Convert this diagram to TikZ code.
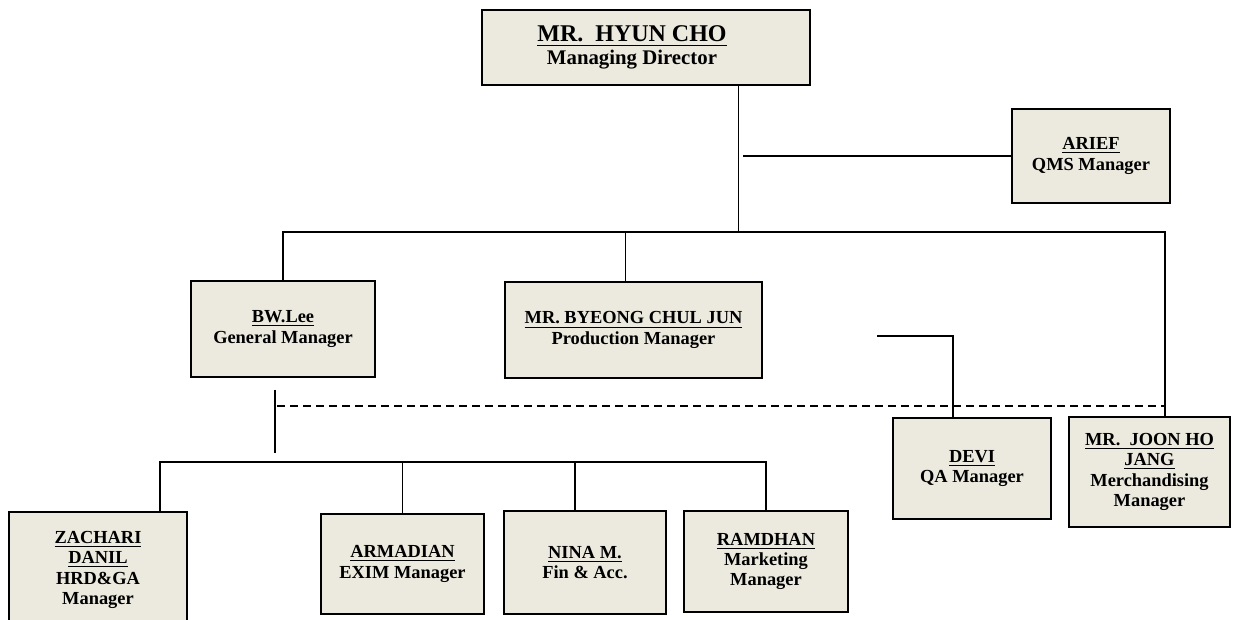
\documentclass[tikz,border=0pt]{standalone}
\usepackage{fontspec}
\setmainfont{Liberation Serif}
\usepackage{tikz}
\usetikzlibrary{calc}
\definecolor{boxfill}{RGB}{236,233,222}
\tikzset{
  post/.style={draw, line width=1pt, fill=boxfill, align=center, inner sep=0pt,
    font=\bfseries\fontsize{9.2}{10.2}\selectfont},
  link/.style={line width=0.9pt},
  dashlink/.style={line width=1pt, dash pattern=on 4pt off 2.5pt}
}

\begin{document}
\begin{tikzpicture}[x=0.5pt,y=-0.5pt]
\clip (0,0) rectangle (1233,620);
\node[post, minimum width=164pt, minimum height=37.5pt] (md) at (646,47.5)
  {{\fontsize{12}{12}\selectfont\underline{MR.~~HYUN CHO}\hspace*{14pt}}\\[1pt]
   {\fontsize{10.4}{12}\selectfont Managing Director\hspace*{14pt}}};
\node[post, minimum width=79pt, minimum height=47pt] (arief) at (1091,156)
  {\underline{ARIEF}\\QMS Manager};
\node[post, minimum width=92pt, minimum height=48pt] (bw) at (283,329)
  {\underline{BW.Lee}\\General Manager};
\node[post, minimum width=128.5pt, minimum height=48pt] (prod) at (633.5,330)
  {\underline{MR. BYEONG CHUL JUN}\\Production Manager};
\node[post, minimum width=79pt, minimum height=50.5pt] (devi) at (972,468.5)
  {\underline{DEVI}\\QA Manager};
\node[post, minimum width=80.5pt, minimum height=55pt] (merch) at (1149.5,472)
  {\underline{MR.~~JOON HO}\\\underline{JANG}\\Merchandising\\Manager};
\node[post, minimum width=89pt, minimum height=58pt] (zach) at (98,570)
  {\underline{ZACHARI}\\\underline{DANIL}\\HRD\&GA\\Manager};
\node[post, minimum width=81.5pt, minimum height=50pt] (arm) at (402.5,564)
  {\underline{ARMADIAN}\\EXIM Manager};
\node[post, minimum width=81pt, minimum height=51.5pt] (nina) at (585,562.5)
  {\underline{NINA M.}\\Fin \& Acc.};
\node[post, minimum width=82pt, minimum height=50.5pt] (ram) at (766,561.5)
  {\underline{RAMDHAN}\\Marketing\\Manager};

\coordinate (jmd) at (738.5,232);
\coordinate (jmerch) at (1165,232);
\coordinate (qfree) at (743,156);
\coordinate (dfree) at (877,336);
\coordinate (dleft) at (277,406.5);
\coordinate (jbw) at (275,462);
\coordinate (jz) at (160,462);

\draw[link] (md.south -| jmd) -- (jmd);
\draw[link] (qfree) -- (arief.west);
\draw[link] (bw.north) -- (bw.north |- jmd) -- (jmerch) -- (jmerch |- merch.north);
\draw[link] ([xshift=-4pt]prod.north) -- ([xshift=-4pt]prod.north |- jmd);
\draw[link] (dfree) -| ([xshift=-9.5pt]devi.north);
\draw[dashlink] (dleft) -- (dleft -| jmerch);
\draw[link, shorten <=6pt, shorten >=4.5pt] (bw.south -| jbw) -- (jbw);
\draw[link] (zach.north -| jz) -- (jz) -| (ram.north);
\draw[link] (arm.north) -- (arm.north |- jz);
\draw[link] ([xshift=-5pt]nina.north) -- ([xshift=-5pt]nina.north |- jz);
\end{tikzpicture}
\end{document}
